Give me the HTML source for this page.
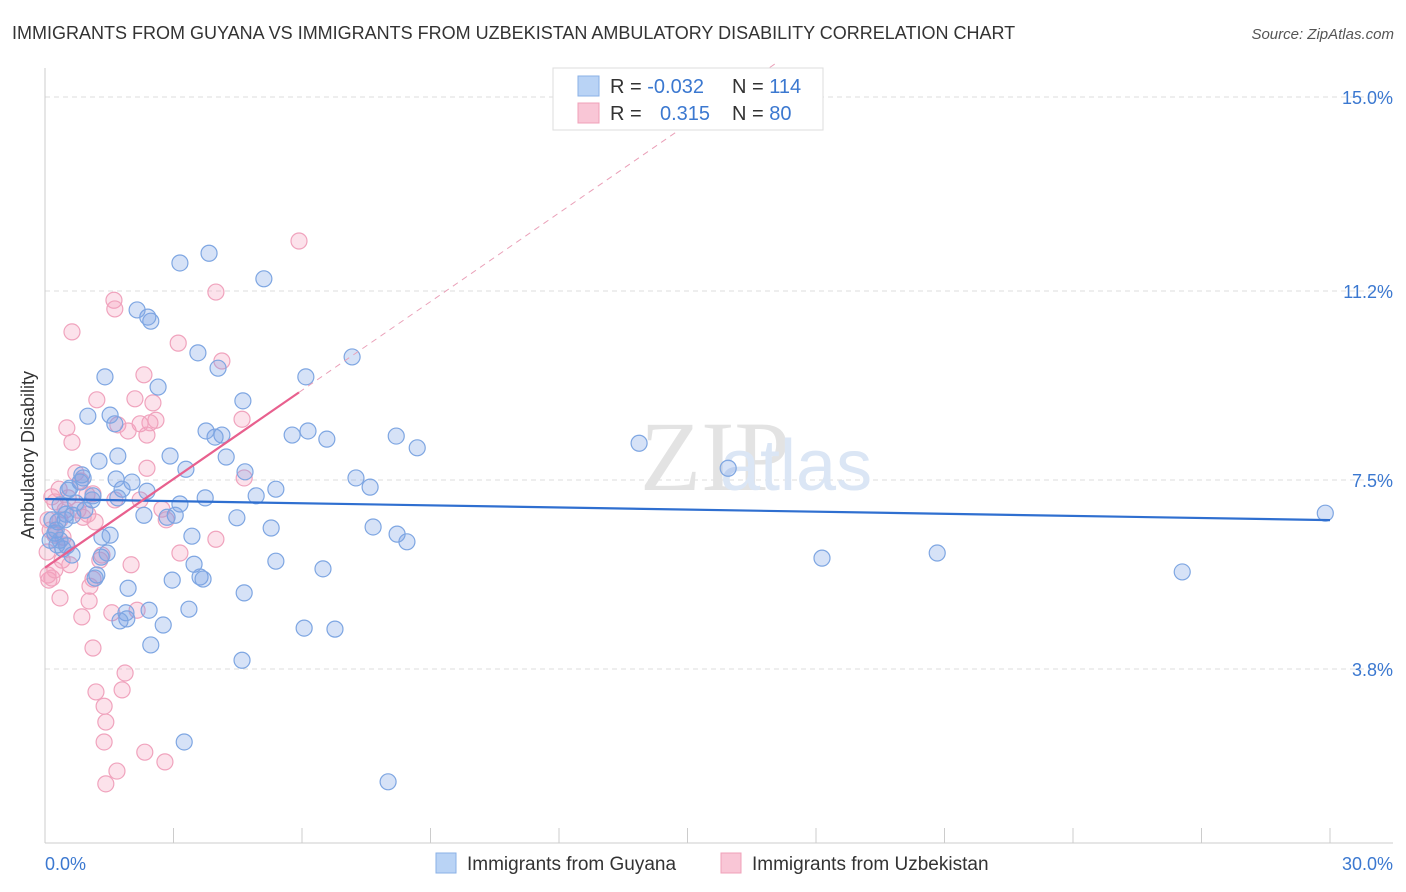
<!DOCTYPE html>
<html><head><meta charset="utf-8"><style>
body{margin:0;background:#fff;font-family:"Liberation Sans",sans-serif;}
svg{display:block}
</style></head><body>
<svg id="chart" width="1406" height="892" xmlns="http://www.w3.org/2000/svg">
<text x="12" y="39" font-size="18" fill="#333">IMMIGRANTS FROM GUYANA VS IMMIGRANTS FROM UZBEKISTAN AMBULATORY DISABILITY CORRELATION CHART</text>
<text x="1394" y="39" font-size="15" fill="#555" font-style="italic" text-anchor="end">Source: ZipAtlas.com</text>
<g id="grid"></g>
<g id="axes">
<line x1="45" y1="68" x2="45" y2="843" stroke="#ccc" stroke-width="1"/>
<line x1="45" y1="843" x2="1393" y2="843" stroke="#ccc" stroke-width="1"/>
</g>
<text x="640" y="490" font-size="100" fill="#e3e3e3" font-family="Liberation Serif,serif">ZIP</text>
<text x="720" y="490" font-size="72" fill="#dbe6f5">atlas</text>
<text transform="translate(34,455) rotate(-90)" font-size="18" fill="#333" text-anchor="middle">Ambulatory Disability</text>
<g id="ticks"></g>
<g id="pink"></g>
<g id="blue"></g>
<g id="trends"></g>
<g>
<rect x="553" y="68" width="270" height="62" fill="#fff" stroke="#ddd"/>
<rect x="578" y="76" width="21" height="20" fill="#b9d3f5" stroke="#8ab0e6"/>
<rect x="578" y="103" width="21" height="20" fill="#f9c6d6" stroke="#f0a0b8"/>
<text x="610" y="93" font-size="20" fill="#333">R = <tspan fill="#3b78d0">-0.032</tspan></text>
<text x="732" y="93" font-size="20" fill="#333">N = <tspan fill="#3b78d0">114</tspan></text>
<text x="610" y="120" font-size="20" fill="#333">R = </text>
<text x="660" y="120" font-size="20" fill="#3b78d0">0.315</text>
<text x="732" y="120" font-size="20" fill="#333">N = <tspan fill="#3b78d0"> 80</tspan></text>
</g>
<g>
<rect x="436" y="853" width="20" height="20" fill="#b9d3f5" stroke="#8ab0e6"/>
<text x="467" y="870" font-size="19" fill="#333">Immigrants from Guyana</text>
<rect x="721" y="853" width="20" height="20" fill="#f9c6d6" stroke="#f0a0b8"/>
<text x="752" y="870" font-size="19" fill="#333">Immigrants from Uzbekistan</text>
</g>
</svg>
<script>
const yTicks=[3.8,7.5,11.2,15.0];
const yTickLabels=["3.8%","7.5%","11.2%","15.0%"];
const xTicks=[0,3,6,9,12,15,18,21,24,27,30];
const xEndLabels=["0.0%","30.0%"];
const blueX=[29.89,26.55,20.83,18.14,15.95,13.87,8.69,8.20,8.45,8.22,7.66,7.59,7.26,7.17,6.58,6.49,6.14,6.09,5.77,6.05,6.77,8.01,5.39,5.28,5.39,5.11,4.93,4.67,4.62,4.65,4.60,4.48,4.23,4.13,4.04,3.97,3.83,3.76,3.74,3.62,3.69,3.48,3.43,3.57,3.36,3.29,3.15,3.15,3.04,2.97,2.92,2.85,3.25,2.76,2.64,2.47,2.40,2.38,2.31,2.47,2.43,2.15,2.03,1.94,1.80,1.70,1.66,1.63,1.52,1.40,1.33,1.31,1.26,1.21,1.12,1.10,1.00,0.93,0.89,0.86,0.82,0.72,0.65,0.63,0.58,0.54,0.49,0.47,0.42,0.35,0.30,0.26,0.23,0.16,0.12,0.28,0.35,1.45,1.52,1.91,1.89,1.75,1.17,1.70,0.51];
const blueY=[6.85,5.70,6.07,5.97,7.73,8.22,8.13,8.36,6.29,6.44,6.58,7.36,7.54,9.91,8.30,5.76,8.46,9.52,8.38,4.60,4.58,1.59,5.91,6.56,7.32,11.44,7.19,7.66,9.05,5.29,3.97,6.76,7.95,8.38,9.69,8.34,11.94,8.46,7.15,5.60,5.56,5.85,6.40,9.99,4.97,7.71,11.75,7.03,6.81,5.54,7.97,6.77,2.37,4.66,9.32,10.61,10.69,7.28,6.81,4.27,4.95,10.83,7.46,5.38,7.32,7.97,7.52,8.60,8.77,9.52,6.38,5.99,7.87,5.64,7.19,7.11,8.75,6.91,7.54,7.60,7.46,7.05,6.81,6.03,7.34,7.30,6.83,6.72,6.15,7.01,6.68,6.52,6.46,6.72,6.32,6.23,6.32,6.07,6.42,4.78,4.90,4.74,5.58,7.15,6.21];
const pinkX=[5.93,3.99,1.61,1.63,0.63,3.11,4.13,2.31,2.10,1.70,1.21,0.51,0.63,2.52,2.59,2.38,2.45,1.94,2.22,4.60,4.65,2.38,0.72,0.84,0.33,0.16,0.23,0.47,0.54,0.98,1.12,0.77,1.17,1.00,0.89,0.07,0.12,0.23,0.42,0.49,0.05,0.40,0.58,0.16,0.09,1.12,1.05,0.35,1.03,1.56,2.15,0.86,2.73,2.83,3.99,3.15,2.01,1.33,1.12,1.87,1.19,1.80,1.38,1.42,1.38,1.68,1.42,2.33,2.80,1.63,2.22,0.35,0.07,0.23,1.28];
const pinkY=[12.18,11.18,11.02,10.85,10.40,10.18,9.83,9.56,9.09,8.58,9.07,8.52,8.24,9.01,8.67,8.38,8.62,8.46,8.60,8.69,7.54,7.73,7.64,7.48,7.32,7.17,7.07,6.91,7.15,7.21,7.23,6.91,6.68,6.83,6.77,6.72,6.52,6.42,6.38,6.23,6.09,5.93,5.84,5.58,5.54,5.56,5.42,5.19,5.13,4.90,4.95,4.82,6.93,6.72,6.34,6.07,5.84,6.03,4.21,3.72,3.35,3.39,3.07,2.76,2.37,1.80,1.55,2.17,1.98,7.11,7.11,6.72,5.64,5.74,5.93];

const NS="http://www.w3.org/2000/svg";
const X0=45,X1=1330,Y0=863,Y15=97;
function sx(v){return X0+(X1-X0)*v/30;}
function sy(v){return Y0-(Y0-Y15)*v/15;}
function mk(tag,attrs,parent){const e=document.createElementNS(NS,tag);for(const k in attrs)e.setAttribute(k,attrs[k]);parent.appendChild(e);return e;}
const grid=document.getElementById('grid'),ticks=document.getElementById('ticks');
yTicks.forEach((t,i)=>{
 const l=mk('line',{x1:45,x2:1393,y1:sy(t),y2:sy(t),stroke:'#ddd','stroke-dasharray':'5,4'},grid);
 
 
 const tx=mk('text',{x:1393,y:sy(t)+7,'font-size':18,fill:'#3b78d0','text-anchor':'end'},ticks);
 tx.textContent=yTickLabels[i];
 
 
});
xTicks.forEach(t=>{
 const l=mk('line',{x1:sx(t),x2:sx(t),y1:828,y2:843,stroke:'#ccc'},ticks);
 
 
});
const xl0=mk('text',{x:45,y:870,'font-size':18,fill:'#3b78d0'},ticks);xl0.textContent=xEndLabels[0];


const xl1=mk('text',{x:1393,y:870,'font-size':18,fill:'#3b78d0','text-anchor':'end'},ticks);xl1.textContent=xEndLabels[1];



function pts(xs,ys,g,fill,stroke,name){
 xs.forEach((x,i)=>{
  const c=mk('circle',{cx:sx(x),cy:sy(ys[i]),r:8,fill:fill,stroke:stroke,'stroke-width':1.2},g);
  
  
 });
}
pts(pinkX,pinkY,document.getElementById('pink'),'rgba(244,160,188,0.3)','#f0a3bd','uzbekistan-point');
pts(blueX,blueY,document.getElementById('blue'),'rgba(120,160,230,0.3)','#7ea6e2','guyana-point');

function reg(xs,ys){const n=xs.length;let mx=0,my=0;for(let i=0;i<n;i++){mx+=xs[i];my+=ys[i];}mx/=n;my/=n;let sxy=0,sxx=0;for(let i=0;i<n;i++){sxy+=(xs[i]-mx)*(ys[i]-my);sxx+=(xs[i]-mx)**2;}const b=sxy/sxx;return [my-b*mx,b];}
const tr=document.getElementById('trends');
const [ba,bb]=reg(blueX,blueY);
const bl=mk('line',{x1:sx(0),y1:sy(ba),x2:sx(30),y2:sy(ba+bb*30),stroke:'#2f6fd0','stroke-width':2.2},tr);


const [pa,pb]=reg(pinkX,pinkY);
const pmax=Math.max(...pinkX);
const pl=mk('line',{x1:sx(0),y1:sy(pa),x2:sx(pmax),y2:sy(pa+pb*pmax),stroke:'#e8608e','stroke-width':2.2},tr);


const xe=pb>0?Math.min(30,(15.7-pa)/pb):30;
const pd=mk('line',{x1:sx(pmax),y1:sy(pa+pb*pmax),x2:sx(xe),y2:sy(pa+pb*xe),stroke:'#eaa0b8','stroke-width':1,'stroke-dasharray':'6,5'},tr);


</script>
</body></html>
